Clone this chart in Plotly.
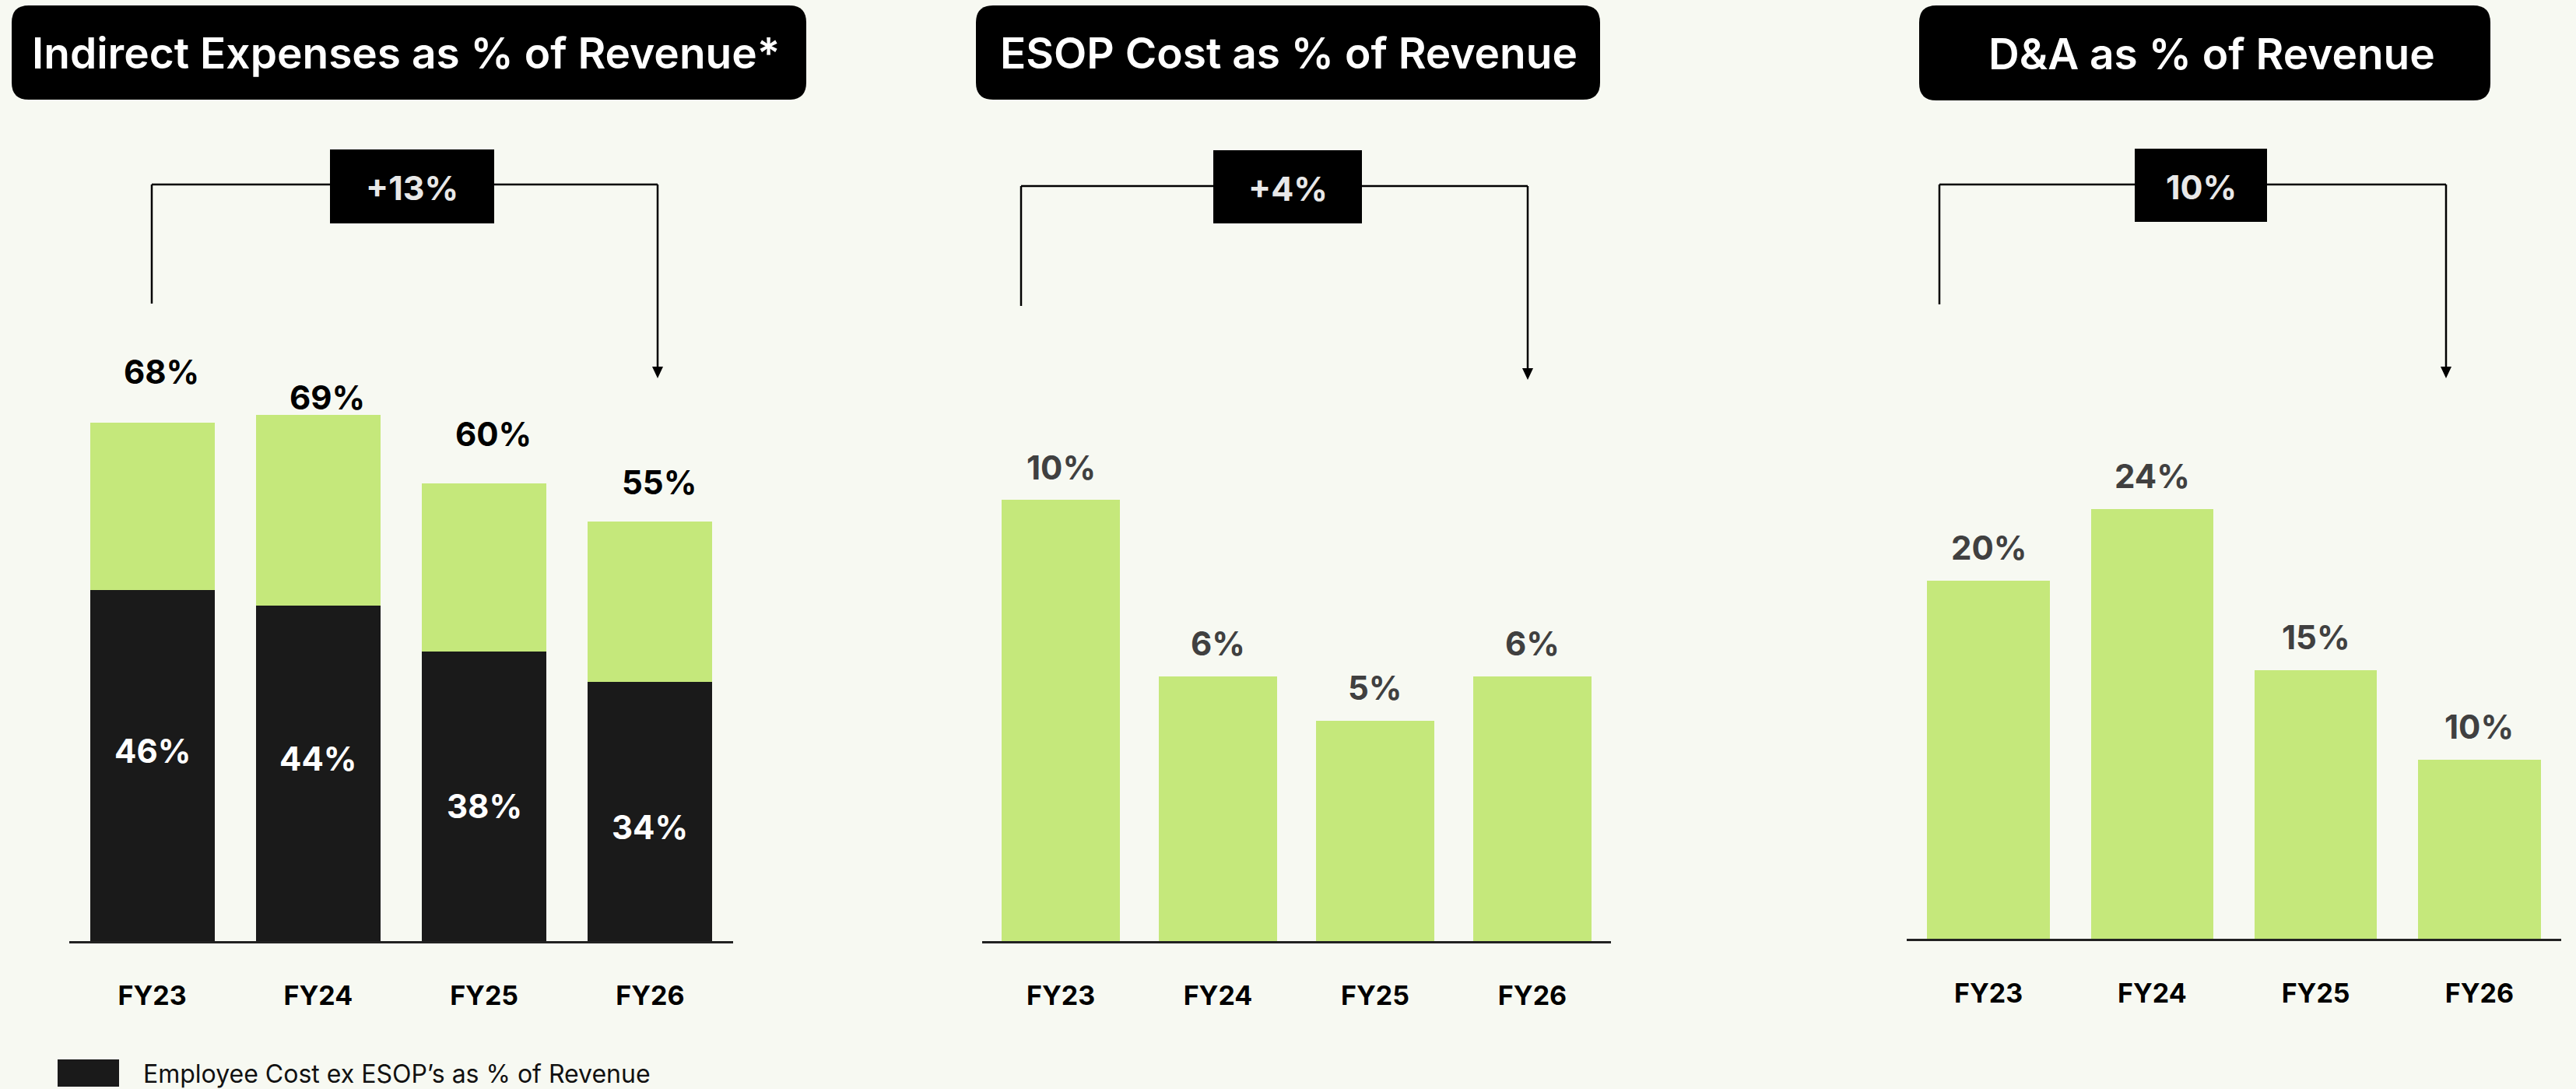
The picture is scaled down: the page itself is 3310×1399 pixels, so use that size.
import plotly.graph_objects as go

# ---- data -------------------------------------------------------------
years = ["FY23", "FY24", "FY25", "FY26"]

indirect_total_pct = [68, 69, 60, 55]          # total indirect expenses as % of revenue
employee_ex_esop_pct = [46, 44, 38, 34]        # employee cost ex ESOP's as % of revenue
other_indirect_pct = [t - e for t, e in zip(indirect_total_pct, employee_ex_esop_pct)]

esop_pct = [10, 6, 5, 6]                       # ESOP cost as % of revenue
da_pct = [20, 24, 15, 10]                      # D&A as % of revenue

panel_titles = ["Indirect Expenses as % of Revenue*",
                "ESOP Cost as % of Revenue",
                "D&A as % of Revenue"]
change_labels = ["+13%", "+4%", "10%"]
legend_label = "Employee Cost ex ESOP\u2019s as % of Revenue"

# ---- styling ----------------------------------------------------------
W, H = 3310, 1399
BG = "#F7F9F2"
GREEN = "#C5E87B"
DARK = "#1A1A1A"
LABEL_GREY = "#404040"
FONT = "Inter, Open Sans, sans-serif"


def px(x):
    return x / W


def py(y):
    return 1 - y / H


fig = go.Figure()

# Panel 1: stacked bars
fig.add_trace(go.Bar(x=years, y=employee_ex_esop_pct, marker_color=DARK,
                     marker_line_width=0, width=0.75, xaxis="x", yaxis="y",
                     name=legend_label, showlegend=False, hoverinfo="skip"))
fig.add_trace(go.Bar(x=years, y=other_indirect_pct, marker_color=GREEN,
                     marker_line_width=0, width=0.75, xaxis="x", yaxis="y",
                     name="Other indirect", showlegend=False, hoverinfo="skip"))
# Panel 2
fig.add_trace(go.Bar(x=years, y=esop_pct, marker_color=GREEN, marker_line_width=0,
                     width=0.75, xaxis="x2", yaxis="y2", showlegend=False,
                     hoverinfo="skip"))
# Panel 3
fig.add_trace(go.Bar(x=years, y=da_pct, marker_color=GREEN, marker_line_width=0,
                     width=0.75, xaxis="x3", yaxis="y3", showlegend=False,
                     hoverinfo="skip"))

# panel geometry in pixels: (axis left, axis right, baseline, top)
panels = [(89, 942, 1209, 400), (1262, 2070, 1209, 400), (2450, 3291, 1206, 400)]
y_tops = [82.55, 14.27, 35.04]

axis_common = dict(type="category", range=[-0.5, 3.5], showgrid=False,
                   zeroline=False, showline=True, linecolor="#222222", linewidth=3,
                   ticks="outside", ticklen=38, tickcolor="rgba(0,0,0,0)",
                   tickfont=dict(family=FONT, size=34, color="#000000", weight=700),
                   fixedrange=True)
layout_axes = {}
for i, ((x0, x1, base, top), ytop) in enumerate(zip(panels, y_tops)):
    suffix = "" if i == 0 else str(i + 1)
    layout_axes["xaxis" + suffix] = dict(axis_common, domain=[px(x0), px(x1)],
                                         anchor="y" + suffix)
    layout_axes["yaxis" + suffix] = dict(domain=[py(base), py(top)], range=[0, ytop],
                                         visible=False, showgrid=False, zeroline=False,
                                         anchor="x" + suffix, fixedrange=True)

annotations = []
shapes = []

# value labels, panel 1
total_lift = [65, 22, 63, 50]
inner_shift = [19, 19, -13, -20]
for i, yr in enumerate(years):
    annotations.append(dict(x=yr, y=indirect_total_pct[i], xref="x", yref="y",
                            text=f"{indirect_total_pct[i]}%", showarrow=False,
                            yanchor="middle", yshift=total_lift[i], xshift=12,
                            font=dict(family=FONT, size=42, color="#000000", weight=700)))
    annotations.append(dict(x=yr, y=employee_ex_esop_pct[i] / 2, xref="x", yref="y",
                            text=f"{employee_ex_esop_pct[i]}%", showarrow=False,
                            yanchor="middle", yshift=inner_shift[i],
                            font=dict(family=FONT, size=42, color="#FFFFFF", weight=700)))

# value labels, panels 2 and 3
for vals, xr, yr_ in [(esop_pct, "x2", "y2"), (da_pct, "x3", "y3")]:
    for i, yr in enumerate(years):
        annotations.append(dict(x=yr, y=vals[i], xref=xr, yref=yr_,
                                text=f"{vals[i]}%", showarrow=False,
                                yanchor="middle", yshift=42,
                                font=dict(family=FONT, size=42, color=LABEL_GREY,
                                          weight=700)))


def rounded_rect(x0, y0, x1, y1, r):
    pts = [
        f"M {px(x0 + r)},{py(y0)}",
        f"L {px(x1 - r)},{py(y0)}",
        f"Q {px(x1)},{py(y0)} {px(x1)},{py(y0 + r)}",
        f"L {px(x1)},{py(y1 - r)}",
        f"Q {px(x1)},{py(y1)} {px(x1 - r)},{py(y1)}",
        f"L {px(x0 + r)},{py(y1)}",
        f"Q {px(x0)},{py(y1)} {px(x0)},{py(y1 - r)}",
        f"L {px(x0)},{py(y0 + r)}",
        f"Q {px(x0)},{py(y0)} {px(x0 + r)},{py(y0)}",
        "Z",
    ]
    return " ".join(pts)


# title pills
title_boxes = [(15, 7, 1036, 128), (1254, 7, 2056, 128), (2466, 7, 3200, 129)]
title_centers = [521, 1656, 2842]
for (x0, y0, x1, y1), cx, title in zip(title_boxes, title_centers, panel_titles):
    shapes.append(dict(type="path", xref="paper", yref="paper",
                       path=rounded_rect(x0, y0, x1, y1, 22),
                       fillcolor="#000000", line=dict(width=0), layer="above"))
    annotations.append(dict(x=px(cx), y=py((y0 + y1) / 2 + 1),
                            xref="paper", yref="paper", text=title, showarrow=False,
                            xanchor="center", yanchor="middle",
                            font=dict(family=FONT, size=55, color="#FFFFFF", weight=600)))

# change brackets: (left x, left bottom y, bar y, box x0, box x1, box y0, box y1, right x, arrow tip y)
brackets = [
    (195, 390, 237, 424, 635, 192, 287, 845, 486),
    (1312, 393, 239, 1559, 1750, 193, 287, 1963, 488),
    (2492, 391, 237, 2743, 2913, 191, 285, 3143, 486),
]
line_style = dict(color="#000000", width=2.5)
for (lx, lb, by, bx0, bx1, by0, by1, rx, tip), lab in zip(brackets, change_labels):
    shapes.append(dict(type="line", xref="paper", yref="paper",
                       x0=px(lx), y0=py(lb), x1=px(lx), y1=py(by), line=line_style))
    shapes.append(dict(type="line", xref="paper", yref="paper",
                       x0=px(lx), y0=py(by), x1=px(bx0), y1=py(by), line=line_style))
    shapes.append(dict(type="line", xref="paper", yref="paper",
                       x0=px(bx1), y0=py(by), x1=px(rx), y1=py(by), line=line_style))
    shapes.append(dict(type="line", xref="paper", yref="paper",
                       x0=px(rx), y0=py(by), x1=px(rx), y1=py(tip - 12), line=line_style))
    shapes.append(dict(type="path", xref="paper", yref="paper",
                       path=(f"M {px(rx - 7)},{py(tip - 15)} L {px(rx + 7)},{py(tip - 15)} "
                             f"L {px(rx)},{py(tip)} Z"),
                       fillcolor="#000000", line=dict(width=0)))
    shapes.append(dict(type="rect", xref="paper", yref="paper",
                       x0=px(bx0), y0=py(by1), x1=px(bx1), y1=py(by0),
                       fillcolor="#000000", line=dict(width=0)))
    annotations.append(dict(x=px((bx0 + bx1) / 2), y=py((by0 + by1) / 2 + 2),
                            xref="paper", yref="paper", text=lab, showarrow=False,
                            xanchor="center", yanchor="middle",
                            font=dict(family=FONT, size=43, color="#E8E8E8", weight=700)))

# legend swatch and label
shapes.append(dict(type="rect", xref="paper", yref="paper",
                   x0=px(74), y0=py(1396), x1=px(153), y1=py(1361),
                   fillcolor=DARK, line=dict(width=0)))
annotations.append(dict(x=px(182), y=py(1379), xref="paper", yref="paper",
                        text=legend_label, showarrow=False, xanchor="left",
                        yanchor="middle",
                        font=dict(family=FONT, size=32, color="#111111", weight=400)))

fig.update_layout(
    width=W, height=H, autosize=False,
    margin=dict(l=0, r=0, t=0, b=0, pad=0),
    paper_bgcolor=BG, plot_bgcolor=BG,
    barmode="stack", bargap=0.25,
    showlegend=False,
    shapes=shapes, annotations=annotations,
    **layout_axes,
)

fig.write_html("out.html", config={"displayModeBar": False})
